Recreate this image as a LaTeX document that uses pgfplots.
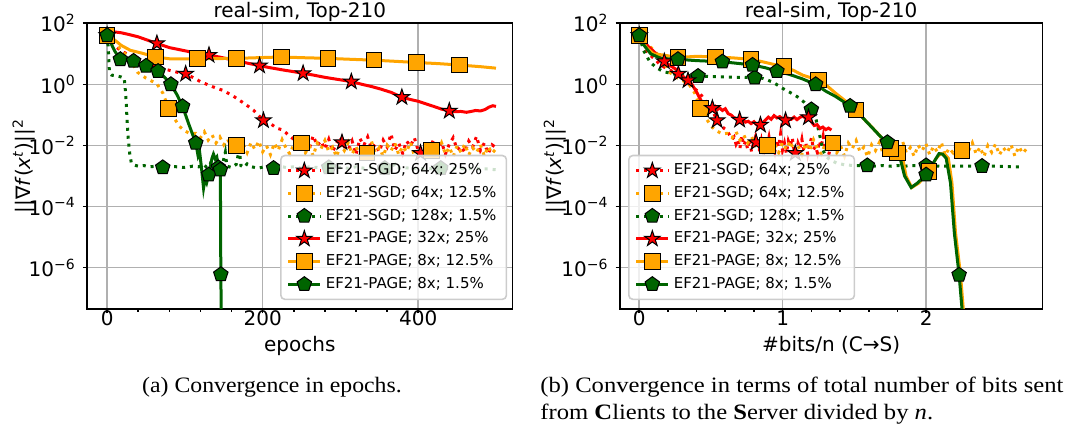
\documentclass[border=0pt]{standalone}
\usepackage{fontspec}
\setmainfont{DejaVu Sans}
\newfontfamily\capfont{Liberation Serif}
\usepackage{graphicx}
\usepackage{pgfplots}
\usepackage{pgfplotstable}
\pgfplotsset{compat=1.18}
\usetikzlibrary{plotmarks}

\definecolor{mred}{RGB}{255,0,0}
\definecolor{morange}{RGB}{255,165,0}
\definecolor{mgreen}{RGB}{0,100,0}
\definecolor{gridc}{RGB}{176,176,176}
\definecolor{legedge}{RGB}{204,204,204}

\pgfdeclareplotmark{fstar}{%
 \pgfpathmoveto{\pgfpointpolar{90}{\pgfplotmarksize}}%
 \pgfpathlineto{\pgfpointpolar{126}{0.382*\pgfplotmarksize}}%
 \pgfpathlineto{\pgfpointpolar{162}{\pgfplotmarksize}}%
 \pgfpathlineto{\pgfpointpolar{198}{0.382*\pgfplotmarksize}}%
 \pgfpathlineto{\pgfpointpolar{234}{\pgfplotmarksize}}%
 \pgfpathlineto{\pgfpointpolar{270}{0.382*\pgfplotmarksize}}%
 \pgfpathlineto{\pgfpointpolar{306}{\pgfplotmarksize}}%
 \pgfpathlineto{\pgfpointpolar{342}{0.382*\pgfplotmarksize}}%
 \pgfpathlineto{\pgfpointpolar{18}{\pgfplotmarksize}}%
 \pgfpathlineto{\pgfpointpolar{54}{0.382*\pgfplotmarksize}}%
 \pgfpathclose
 \pgfusepathqfillstroke}

% ---------------- data: left panel (x = epochs) ----------------
\pgfplotstableread{
x y
0 40
5 28
10 18
18 12.6
26 9.8
35 7.6
45 5.9
51 4.7
60 4.0
70 3.3
80 2.9
90 2.5
101 2.2
110 1.7
120 1.23
135 0.85
150 0.62
163 0.40
175 0.25
188 0.145
195 0.095
201 0.066
210 0.052
218 0.037
226 0.032
235 0.020
240 0.016
245 0.019
250 0.011
255 0.015
260 0.008
265 0.021
270 0.010
275 0.014
280 0.0075
285 0.016
290 0.0062
295 0.012
300 0.019
305 0.009
310 0.0072
315 0.014
320 0.005
325 0.017
330 0.010
335 0.019
340 0.0078
345 0.011
350 0.0062
355 0.015
360 0.009
365 0.024
370 0.007
375 0.012
380 0.0055
385 0.014
390 0.0095
395 0.018
400 0.0068
405 0.0056
410 0.012
415 0.0082
420 0.016
425 0.0064
430 0.013
435 0.0052
440 0.011
445 0.018
450 0.0073
455 0.0095
460 0.0058
465 0.014
470 0.0088
475 0.020
480 0.0069
485 0.012
490 0.0054
495 0.0105
500 0.0085
}\LRD

\pgfplotstableread{
x y
0 40
10 22
20 12
30 6.5
39 2.5
50 1.6
64 1.05
72 0.5
79 0.166
86 0.08
93 0.042
100 0.03
107 0.024
114 0.025
120 0.018
125 0.028
130 0.015
135 0.022
140 0.012
145 0.019
150 0.0105
155 0.016
160 0.0085
165 0.013
170 0.0072
175 0.011
180 0.0058
185 0.0125
190 0.0075
195 0.014
200 0.0062
205 0.0098
210 0.005
215 0.012
220 0.0068
225 0.0155
230 0.0082
235 0.0052
240 0.011
245 0.0072
250 0.013
255 0.0058
260 0.0095
265 0.0045
270 0.012
275 0.0078
280 0.0145
285 0.0062
290 0.0088
295 0.0042
300 0.0105
305 0.0068
310 0.0125
315 0.0052
320 0.0092
325 0.0048
330 0.011
335 0.0063
340 0.0135
345 0.0057
350 0.0085
355 0.0044
360 0.0102
365 0.0066
370 0.0118
375 0.005
380 0.0095
385 0.0061
390 0.0128
395 0.0047
400 0.0082
405 0.0058
410 0.011
415 0.0049
420 0.0092
425 0.0065
430 0.0122
435 0.0052
440 0.0088
445 0.0043
450 0.0099
455 0.006
460 0.0112
465 0.0049
470 0.0085
475 0.0058
480 0.0107
485 0.0045
490 0.0093
495 0.0055
500 0.0078
}\LOD

\pgfplotstableread{
x y
0 40
1.5 15
3 2.4
6 2.0
12 1.9
18 1.75
22 1.6
24 0.45
25.5 0.08
27 0.018
29 0.0055
31 0.0028
34 0.0023
40 0.0021
47 0.0022
55 0.0020
63 0.0021
72 0.0019
80 0.0021
90 0.0020
100 0.0019
110 0.0021
118 0.0020
124 0.0024
128 0.0019
132 0.0022
136 0.0045
138 0.0021
142 0.0019
148 0.0022
152 0.006
154 0.0021
160 0.0019
166 0.0024
170 0.0075
172 0.0022
176 0.0019
180 0.0025
186 0.0020
194 0.0018
202 0.0020
210 0.0019
214 0.0018
222 0.0021
230 0.0019
240 0.0020
250 0.0018
260 0.0020
270 0.0019
280 0.0018
290 0.0021
300 0.0019
310 0.0018
320 0.0020
330 0.0018
340 0.0019
350 0.0018
360 0.0018
370 0.0024
372 0.0018
380 0.0019
390 0.0018
400 0.0017
410 0.0018
420 0.0017
430 0.0018
440 0.0017
450 0.0018
460 0.0017
470 0.0018
480 0.0017
490 0.0017
500 0.0016
}\LGD

\pgfplotstableread{
x y
0 40
4 46
10 52
18 49
28 43
40 36
52 28
64 22
80 16
100 12.6
115 10.5
131 9.1
145 7.8
160 6.4
178 5.1
196 4.1
210 3.5
225 3.0
240 2.6
252 2.3
266 2.0
280 1.7
297 1.45
314 1.23
328 1.0
340 0.85
352 0.7
365 0.55
379 0.38
390 0.32
400 0.28
410 0.23
420 0.19
430 0.155
440 0.135
448 0.128
455 0.13
462 0.122
468 0.13
474 0.14
480 0.135
486 0.15
491 0.18
496 0.2
500 0.19
}\LRS

\pgfplotstableread{
x y
0 40
10 28
18 19
30 13
45 10.5
62 7.9
80 6.9
100 6.8
116 6.9
140 7.0
166 7.1
195 7.5
224 7.9
250 7.5
284 7.1
315 6.6
343 6.2
370 5.7
398 5.2
425 4.8
453 4.3
480 3.8
500 3.4
}\LOS

\pgfplotstableread{
x y
0 40
5 22
10 12
17 6.6
25 6.2
34 5.8
42 4.8
50 4.0
58 3.3
65.5 2.7
74 1.7
82 1.0
90 0.45
97 0.19
105 0.05
114 0.012
117 0.0045
119 0.006
121 0.0022
124 0.0004
126 0.0008
128 0.0006
130.6 0.0011
133 0.0022
135 0.004
137 0.005
139 0.0036
141 0.0042
143 0.0021
145.6 0.0016
146.2 6e-7
147 1e-8
147.5 1e-9
}\LGS

% ---------------- data: right panel (x = bits/n, in units of 1e7) ----------------
\pgfplotstableread{
x y
0 40
0.03 27
0.06 18
0.096 12.6
0.135 8.5
0.175 5.6
0.21 4.3
0.253 3.2
0.30 1.9
0.34 1.35
0.365 1.05
0.40 0.56
0.43 0.30
0.466 0.18
0.49 0.165
0.51 0.166
0.53 0.19
0.545 0.15
0.56 0.17
0.58 0.14
0.60 0.16
0.62 0.11
0.64 0.10
0.66 0.082
0.68 0.075
0.70 0.069
0.72 0.072
0.74 0.058
0.76 0.062
0.78 0.052
0.80 0.060
0.82 0.047
0.845 0.047
0.86 0.055
0.88 0.068
0.90 0.085
0.92 0.072
0.94 0.095
0.96 0.08
0.98 0.088
1.00 0.074
1.02 0.066
1.04 0.078
1.06 0.072
1.08 0.085
1.10 0.070
1.12 0.083
1.14 0.092
1.16 0.078
1.18 0.083
1.20 0.060
1.22 0.045
1.24 0.048
1.26 0.036
1.28 0.040
1.30 0.033
1.32 0.037
1.34 0.032
}\RRS

\pgfplotstableread{
x y
0 40
0.05 16
0.10 10
0.17 9.1
0.27 7.6
0.40 8.3
0.53 7.9
0.65 7.4
0.78 6.6
0.86 5.5
0.93 4.6
1.01 3.8
1.08 2.8
1.14 2.0
1.25 1.38
1.31 0.89
1.37 0.51
1.44 0.28
1.51 0.145
1.58 0.063
1.65 0.029
1.70 0.016
1.75 0.008
1.785 0.0055
1.81 0.0045
1.83 0.0056
1.86 0.001
1.90 0.00042
1.95 0.00059
2.0 0.0011
2.02 0.0014
2.07 0.0038
2.10 0.0054
2.13 0.0052
2.155 0.0038
2.18 0.0006
2.205 0.000014
2.24 5.8e-7
2.265 2e-8
2.27 1e-9
}\ROS

\pgfplotstableread{
x y
0 40
0.03 20
0.08 10
0.15 7.1
0.27 6.6
0.40 6.0
0.58 5.5
0.70 4.8
0.79 4.3
0.88 3.5
0.96 2.7
1.05 2.1
1.14 1.5
1.23 1.0
1.30 0.6
1.37 0.4
1.47 0.195
1.55 0.089
1.62 0.04
1.68 0.02
1.73 0.0126
1.745 0.0072
1.78 0.0038
1.81 0.0056
1.85 0.001
1.896 0.00042
1.94 0.00059
2.0 0.0011
2.07 0.0038
2.09 0.0054
2.115 0.0052
2.14 0.0038
2.17 0.00059
2.197 0.0000135
2.23 5.8e-7
2.255 2.5e-8
2.26 1e-9
}\RGS

\pgfplotstableread{
x y
0 40
0.03 13
0.074 5.5
0.12 3.5
0.17 2.6
0.28 2.0
0.41 1.86
0.6 1.74
0.805 1.66
0.86 1.58
0.93 1.2
1.0 0.74
1.05 0.55
1.1 0.40
1.15 0.26
1.20 0.15
1.23 0.08
1.25 0.032
1.27 0.012
1.28 0.0072
1.30 0.0045
1.33 0.0034
1.38 0.0026
1.44 0.0023
1.50 0.0022
1.59 0.0022
1.65 0.0021
1.70 0.0022
1.75 0.0021
1.80 0.0022
1.85 0.0021
1.90 0.0022
2.0 0.0022
2.1 0.0021
2.2 0.0021
2.3 0.0021
2.39 0.0021
2.5 0.0021
2.6 0.0020
2.68 0.0020
}\RGD

\pgfplotsset{
 dotline/.style={line width=1.5pt, dash pattern=on 1.5pt off 2.475pt, forget plot, mark=none},
 solline/.style={line width=1.5pt, solid, forget plot, mark=none},
 mk/.style n args={3}{only marks, color=#1, mark=#2, mark size=#3,
   mark options={solid, sharp corners, draw=black, fill=#1, line width=0.5pt, opacity=1}},
 legdot/.style={legend image code/.code={%
   \draw[line width=1.5pt, dash pattern=on 1.5pt off 2.475pt, sharp corners, opacity=1] (0pt,0pt) -- (16pt,0pt);
   \draw plot coordinates {(8pt,0pt)};}},
 legsol/.style={legend image code/.code={%
   \draw[line width=1.5pt, solid, sharp corners, opacity=1] (0pt,0pt) -- (16pt,0pt);
   \draw plot coordinates {(8pt,0pt)};}},
}
\pgfkeys{/pgf/number format/assume math mode=true}

\begin{document}
\begin{tikzpicture}
\useasboundingbox (0pt,0pt) rectangle (536pt,215.5pt);

% ---------------- left panel ----------------
\begin{axis}[
  at={(43.65pt,61pt)}, anchor=south west,
  scale only axis, width=212.5pt, height=142.85pt,
  ymode=log, ymin=4.43e-8, ymax=100,
  ytick={1e-6,1e-4,1e-2,1,100},
  yticklabels={10\textsuperscript{−6},10\textsuperscript{−4},10\textsuperscript{−2},10\textsuperscript{0},10\textsuperscript{2}},
  yminorticks=false,
  axis line style={line width=0.8pt},
  tick align=outside, tick pos=left,
  major tick length=2.2pt, minor tick length=1.3pt,
  tick style={black, line width=0.8pt},
  xmajorgrids, ymajorgrids, major grid style={gridc, line width=0.8pt},
  tick label style={font=\fontsize{10}{12}\selectfont},
  xticklabel style={yshift=5pt},
  label style={font=\fontsize{10}{12}\selectfont},
  title style={font=\fontsize{10}{12}\selectfont, at={(axis description cs:0.5,1)}, anchor=base, yshift=-3pt},
  title={real-sim, Top-210},
  ylabel={||∇\textit{f}(\textit{x}\textsuperscript{\textit{t}})||\textsuperscript{2}},
  xlabel style={at={(axis description cs:0.5,0)}, anchor=north, inner sep=0pt, yshift=-13.5pt},
  legend cell align=left,
  legend style={font=\fontsize{7.5}{9}\selectfont, fill=white, fill opacity=0.8, text opacity=1,
    draw=legedge, draw opacity=1, rounded corners=2pt, line width=0.8pt,
    inner xsep=3pt, inner ysep=2pt, row sep=0.3pt},
  xmin=-25.5, xmax=521, xtick={0,200,400}, minor x tick num=4,
  xlabel={epochs},
  ylabel style={at={(axis description cs:-0.15,0.5)}, anchor=center},
  legend style={at={(0.988,0.031)}, anchor=south east}]
\addplot[mred, dotline] table[x=x,y=y] {\LRD};
\addplot[mk={mred}{fstar}{4.1pt}, legdot] coordinates {(0,40) (101,2.2) (201,0.066) (302,0.0126) (403,0.0056)};
\addlegendentry{EF21-SGD; 64x; 25\%}
\addplot[morange, dotline] table[x=x,y=y] {\LOD};
\addplot[mk={morange}{square*}{3.9pt}, legdot] coordinates {(0,40) (79,0.166) (166,0.01) (250,0.012) (334,0.0056) (417,0.0068)};
\addlegendentry{EF21-SGD; 64x; 12.5\%}
\addplot[mgreen, dotline] table[x=x,y=y] {\LGD};
\addplot[mk={mgreen}{pentagon*}{3.8pt}, legdot] coordinates {(0,40) (71.5,0.0019) (143,0.0019) (214,0.0018) (285,0.0019) (357,0.0018) (429,0.0018)};
\addlegendentry{EF21-SGD; 128x; 1.5\%}
\addplot[mred, solline] table[x=x,y=y] {\LRS};
\addplot[mk={mred}{fstar}{4.1pt}, legsol] coordinates {(0,40) (64,22) (131,9.1) (196,4.1) (252,2.3) (314,1.23) (379,0.38) (440,0.135)};
\addlegendentry{EF21-PAGE; 32x; 25\%}
\addplot[morange, solline] table[x=x,y=y] {\LOS};
\addplot[mk={morange}{square*}{3.9pt}, legsol] coordinates {(0,40) (62,7.9) (116,6.9) (166,7.1) (224,7.9) (284,7.1) (343,6.2) (398,5.2) (453,4.3)};
\addlegendentry{EF21-PAGE; 8x; 12.5\%}
\addplot[mgreen, solline] table[x=x,y=y] {\LGS};
\addplot[mk={mgreen}{pentagon*}{3.8pt}, legsol] coordinates {(0,40) (17,6.6) (34,5.8) (50,4.0) (65.5,2.7) (82,1.0) (97,0.19) (114,0.012) (130.6,0.0011) (145.6,0.0016) (146.2,6e-7)};
\addlegendentry{EF21-PAGE; 8x; 1.5\%}
\end{axis}

% ---------------- right panel ----------------
\begin{axis}[
  at={(310pt,61pt)}, anchor=south west,
  scale only axis, width=211.15pt, height=142.85pt,
  ymode=log, ymin=4.43e-8, ymax=100,
  ytick={1e-6,1e-4,1e-2,1,100},
  yticklabels={10\textsuperscript{−6},10\textsuperscript{−4},10\textsuperscript{−2},10\textsuperscript{0},10\textsuperscript{2}},
  yminorticks=false,
  axis line style={line width=0.8pt},
  tick align=outside, tick pos=left,
  major tick length=2.2pt, minor tick length=1.3pt,
  tick style={black, line width=0.8pt},
  xmajorgrids, ymajorgrids, major grid style={gridc, line width=0.8pt},
  tick label style={font=\fontsize{10}{12}\selectfont},
  xticklabel style={yshift=5pt},
  label style={font=\fontsize{10}{12}\selectfont},
  title style={font=\fontsize{10}{12}\selectfont, at={(axis description cs:0.5,1)}, anchor=base, yshift=-3pt},
  title={real-sim, Top-210},
  ylabel={||∇\textit{f}(\textit{x}\textsuperscript{\textit{t}})||\textsuperscript{2}},
  xlabel style={at={(axis description cs:0.5,0)}, anchor=north, inner sep=0pt, yshift=-13.5pt},
  legend cell align=left,
  legend style={font=\fontsize{7.5}{9}\selectfont, fill=white, fill opacity=0.8, text opacity=1,
    draw=legedge, draw opacity=1, rounded corners=2pt, line width=0.8pt,
    inner xsep=3pt, inner ysep=2pt, row sep=0.3pt},
  xmin=-0.134, xmax=2.81, xtick={0,1,2}, minor x tick num=4,
  xlabel={\#bits/n (C→S)},
  ylabel style={at={(axis description cs:-0.154,0.5)}, anchor=center},
  legend style={at={(0.019,0.031)}, anchor=south west}]
\addplot[mred, dotline] table[x expr=\thisrow{x}*0.0027, y=y] {\LRD};
\addplot[mk={mred}{fstar}{4.1pt}, legdot] coordinates {(0,40) (0.273,2.2) (0.543,0.066) (0.815,0.0126) (1.088,0.0056)};
\addlegendentry{EF21-SGD; 64x; 25\%}
\addplot[morange, dotline] table[x expr=\thisrow{x}*0.0054, y=y] {\LOD};
\addplot[mk={morange}{square*}{3.9pt}, legdot] coordinates {(0,40) (0.427,0.166) (0.896,0.01) (1.35,0.012) (1.80,0.0056) (2.25,0.0068)};
\addlegendentry{EF21-SGD; 64x; 12.5\%}
\addplot[mgreen, dotline] table[x=x,y=y] {\RGD};
\addplot[mk={mgreen}{pentagon*}{3.8pt}, legdot] coordinates {(0,40) (0.41,1.86) (0.805,1.66) (1.20,0.15) (1.59,0.0022) (2.0,0.0022) (2.39,0.0021)};
\addlegendentry{EF21-SGD; 128x; 1.5\%}
\addplot[mred, solline] table[x=x,y=y] {\RRS};
\addplot[mk={mred}{fstar}{4.1pt}, legsol] coordinates {(0,40) (0.175,5.6) (0.34,1.35) (0.51,0.166) (0.70,0.069) (0.845,0.047) (1.02,0.066) (1.18,0.083)};
\addlegendentry{EF21-PAGE; 32x; 25\%}
\addplot[morange, solline] table[x=x,y=y] {\ROS};
\addplot[mk={morange}{square*}{3.9pt}, legsol] coordinates {(0,40) (0.27,7.6) (0.53,7.9) (0.78,6.6) (1.01,3.8) (1.25,1.38) (1.51,0.145) (1.75,0.008) (2.02,0.0014)};
\addlegendentry{EF21-PAGE; 8x; 12.5\%}
\addplot[mgreen, solline] table[x=x,y=y] {\RGS};
\addplot[mk={mgreen}{pentagon*}{3.8pt}, legsol] coordinates {(0,40) (0.27,6.6) (0.58,5.5) (0.79,4.3) (0.96,2.7) (1.23,1.0) (1.47,0.195) (1.73,0.0126) (2.0,0.0011) (2.23,5.8e-7)};
\addlegendentry{EF21-PAGE; 8x; 1.5\%}
\node[anchor=north east, inner sep=0pt, font=\fontsize{10}{12}\selectfont, yshift=-13.5pt] at (rel axis cs:1,0) {1e7};
\end{axis}

% ---------------- captions ----------------
\node[anchor=base, inner sep=0pt, font=\capfont\fontsize{11}{13}\selectfont] at (136pt,19pt) {\scalebox{1.08}[1]{(a) Convergence in epochs.}};
\node[anchor=base west, inner sep=0pt, font=\capfont\fontsize{11}{13}\selectfont] at (270pt,19pt) {\scalebox{1.12}[1]{(b) Convergence in terms of total number of bits sent}};
\node[anchor=base west, inner sep=0pt, font=\capfont\fontsize{11}{13}\selectfont] at (270pt,5.5pt) {\scalebox{1.12}[1]{from \textbf{C}lients to the \textbf{S}erver divided by \textit{n}.}};
\end{tikzpicture}
\end{document}
